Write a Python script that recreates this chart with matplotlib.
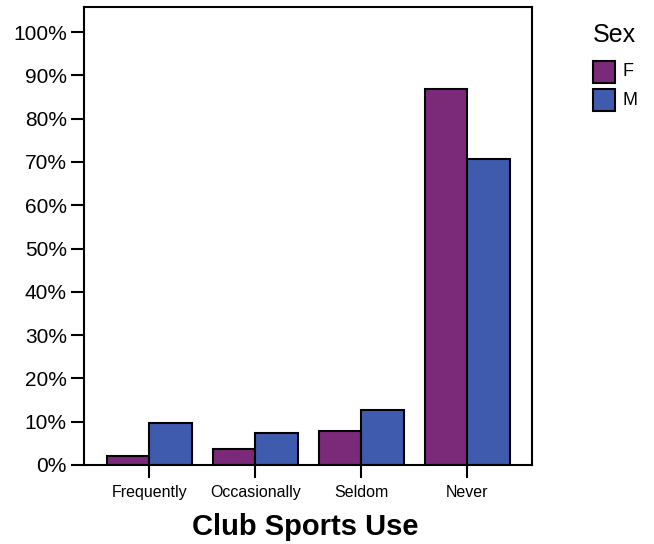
import matplotlib
matplotlib.use("Agg")
import matplotlib.pyplot as plt
from matplotlib.patches import Rectangle
import numpy as np

plt.rcParams['font.family'] = ['Liberation Sans', 'DejaVu Sans']

categories = ["Frequently", "Occasionally", "Seldom", "Never"]
female = [2.1, 3.8, 7.9, 86.8]
male = [9.8, 7.5, 12.7, 70.6]
series_names = ["F", "M"]
colors = ["#7B2A7A", "#3F5BAE"]
yticks = list(range(0, 101, 10))

fig = plt.figure(figsize=(6.54, 5.44), dpi=100)
ax = fig.add_axes([84/654, 1-465/544, (532.3-84)/654, (465-7)/544])

x = np.arange(len(categories))
w = 0.40
ax.bar(x - w/2, female, width=w, color=colors[0], edgecolor="black", linewidth=1.5, zorder=2)
ax.bar(x + w/2, male, width=w, color=colors[1], edgecolor="black", linewidth=1.5, zorder=2)

ax.set_xlim(-0.615, 3.615)
ax.set_ylim(0, 105.8)
ax.set_yticks(yticks)
ax.set_yticklabels([f"{v}%" for v in yticks], fontsize=15)
ax.set_xticks(x)
ax.set_xticklabels(categories, fontsize=11.5)
ax.tick_params(axis='y', length=9.4, width=1.5, pad=3)
ax.tick_params(axis='x', length=9.4, width=1.5, pad=5)
for s in ax.spines.values():
    s.set_linewidth(1.5)

# axis title
fig.text(305.5/654, 1-535/544, "Club Sports Use", fontsize=21, fontweight='bold',
         ha='center', va='baseline')

# legend
fig.text(614.5/654, 1-35/544, "Sex", fontsize=18, ha='center', va='center')
for i, (name, c) in enumerate(zip(series_names, colors)):
    y0 = 61 + i * 28.3
    fig.patches.append(Rectangle((593/654, 1-(y0+22)/544), 22/654, 22/544,
                                 transform=fig.transFigure, facecolor=c,
                                 edgecolor='black', linewidth=1.5))
    fig.text(623/654, 1-(y0+11)/544, name, fontsize=13, ha='left', va='center')

fig.savefig("out.png", dpi=100)
